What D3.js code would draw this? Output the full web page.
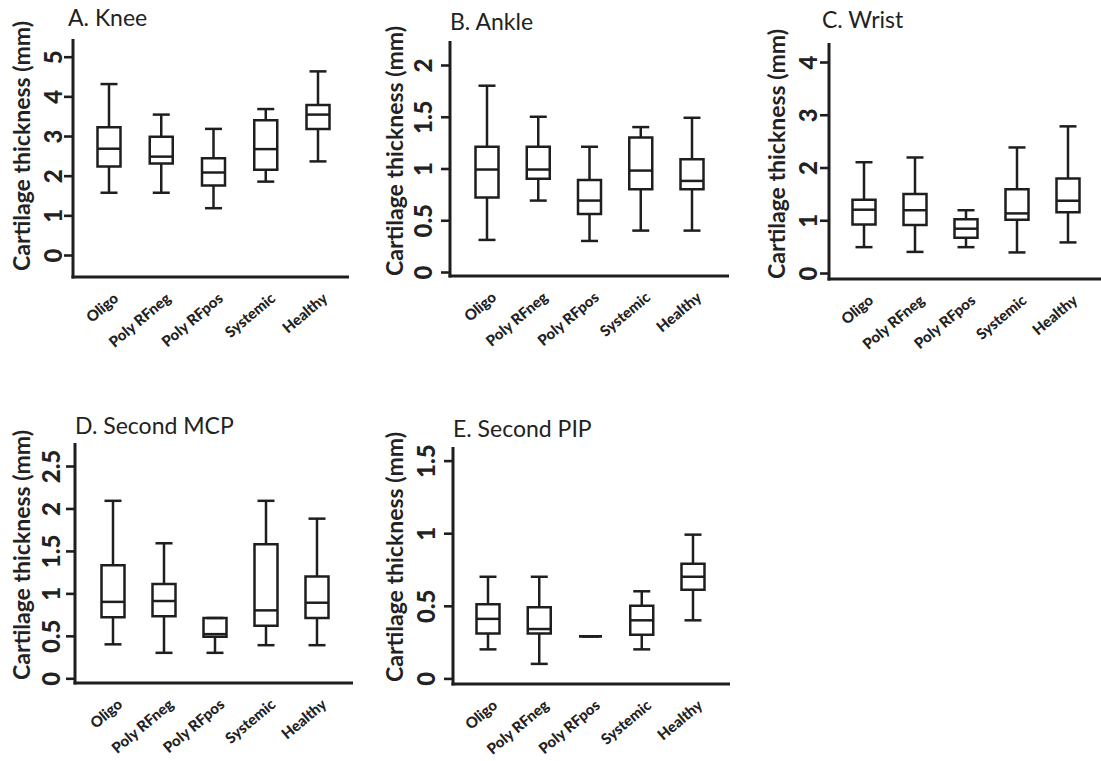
<!DOCTYPE html>
<html>
<head>
<meta charset="utf-8">
<script src="https://cdn.jsdelivr.net/npm/d3@7"></script>
<style>
  body { margin: 0; background: #fff; }
  svg { display: block; }
  .box, .whisker, .cap, .median { fill: none; stroke: #1e1e1e; stroke-width: 2.5; }
  .axis-line { stroke: #1e1e1e; stroke-width: 3; }
  .tick line { stroke: #1e1e1e; stroke-width: 2.6; }
  .panel-title { font-family: Lato, sans-serif; font-size: 23px; fill: #222; }
  .y-title { font-family: Lato, sans-serif; font-weight: bold; font-size: 23px; fill: #222; }
  .tick text { font-family: Lato, sans-serif; font-weight: 900; fill: #222; }
</style>
</head>
<body>
<div id="chart"></div>
<script>
// Groups on the x axis
const categories = ['Oligo', 'Poly RFneg', 'Poly RFpos', 'Systemic', 'Healthy'];

// Box stats per group: [whisker low, Q1, median, Q3, whisker high] (mm)
const kneeStats = [
    [1.57, 2.23, 2.68, 3.22, 4.31],
    [1.57, 2.31, 2.48, 2.98, 3.54],
    [1.18, 1.75, 2.08, 2.44, 3.18],
    [1.85, 2.15, 2.67, 3.40, 3.68],
    [2.36, 3.18, 3.54, 3.78, 4.63]
];
const ankleStats = [
    [0.31, 0.72, 0.99, 1.21, 1.80],
    [0.69, 0.90, 0.99, 1.21, 1.50],
    [0.30, 0.56, 0.69, 0.89, 1.21],
    [0.40, 0.80, 0.98, 1.30, 1.40],
    [0.40, 0.80, 0.88, 1.09, 1.49]
];
const wristStats = [
    [0.49, 0.92, 1.20, 1.39, 2.10],
    [0.40, 0.91, 1.19, 1.50, 2.19],
    [0.49, 0.67, 0.84, 1.02, 1.19],
    [0.39, 1.01, 1.13, 1.59, 2.38],
    [0.58, 1.15, 1.37, 1.79, 2.78]
];
const mcpStats = [
    [0.40, 0.72, 0.90, 1.33, 2.09],
    [0.30, 0.73, 0.91, 1.11, 1.59],
    [0.30, 0.49, 0.52, 0.71, 0.71],
    [0.39, 0.62, 0.80, 1.58, 2.09],
    [0.39, 0.71, 0.89, 1.20, 1.88]
];
const pipStats = [
    [0.20, 0.31, 0.41, 0.51, 0.70],
    [0.10, 0.31, 0.34, 0.49, 0.70],
    [0.29, 0.29, 0.29, 0.29, 0.29],
    [0.20, 0.30, 0.40, 0.50, 0.60],
    [0.40, 0.61, 0.70, 0.79, 0.99]
];

// Tick values for each panel
const kneeTicks = [0, 1, 2, 3, 4, 5];
const ankleTicks = [0, 0.5, 1, 1.5, 2];
const wristTicks = [0, 1, 2, 3, 4];
const mcpTicks = [0, 0.5, 1, 1.5, 2, 2.5];
const pipTicks = [0, 0.5, 1, 1.5];

const yLabel = 'Cartilage thickness (mm)';

// Panel layout (pixel positions only)
const panels = [
    { title: 'A. Knee', stats: kneeStats, ticks: kneeTicks,
      axisX: 73, top: 39, bottom: 277, right: 349, y0: 255, y1: 56.7,
      firstX: 109, lastX: 318, labelOff: 11, titleX: 68, titleY: 26, yTitleX: 22, yTitleY: 146 },
    { title: 'B. Ankle', stats: ankleStats, ticks: ankleTicks,
      axisX: 450, top: 41, bottom: 276, right: 729, y0: 272, y1: 65,
      firstX: 487, lastX: 692, labelOff: 18, titleX: 450, titleY: 30, yTitleX: 395, yTitleY: 151 },
    { title: 'C. Wrist', stats: wristStats, ticks: wristTicks,
      axisX: 829, top: 43, bottom: 279, right: 1101, y0: 273, y1: 62,
      firstX: 864, lastX: 1068, labelOff: 12, titleX: 822, titleY: 28, yTitleX: 777, yTitleY: 154 },
    { title: 'D. Second MCP', stats: mcpStats, ticks: mcpTicks,
      axisX: 75, top: 443, bottom: 683, right: 353, y0: 678.3, y1: 466,
      firstX: 113, lastX: 317, labelOff: 15, titleX: 75, titleY: 434, yTitleX: 22, yTitleY: 555 },
    { title: 'E. Second PIP', stats: pipStats, ticks: pipTicks,
      axisX: 453, top: 447, bottom: 684, right: 730, y0: 678.4, y1: 460.6,
      firstX: 488, lastX: 693, labelOff: 18, titleX: 453, titleY: 437, yTitleX: 395, yTitleY: 557 }
];

const width = 1101;
const height = 761;
const boxWidth = 23;
const capWidth = 17;

const svg = d3.select('#chart')
    .append('svg')
    .attr('width', width)
    .attr('height', height);

panels.forEach(function(p) {
    const g = svg.append('g');

    const y = d3.scaleLinear()
        .domain([0, p.ticks[p.ticks.length - 1]])
        .range([p.y0, p.y1]);

    const x = d3.scalePoint()
        .domain(categories)
        .range([p.firstX, p.lastX]);

    // Title
    g.append('text')
        .attr('class', 'panel-title')
        .attr('x', p.titleX)
        .attr('y', p.titleY)
        .text(p.title);

    // Y axis title
    g.append('text')
        .attr('class', 'y-title')
        .attr('transform', `translate(${p.yTitleX},${p.yTitleY}) rotate(-90)`)
        .attr('text-anchor', 'middle')
        .attr('dy', '0.35em')
        .text(yLabel);

    // Y axis ticks
    const yAxis = g.append('g')
        .attr('transform', `translate(${p.axisX},0)`)
        .call(d3.axisLeft(y)
            .tickValues(p.ticks)
            .tickFormat(d3.format('~g'))
            .tickSize(9));
    yAxis.select('.domain').remove();
    yAxis.selectAll('.tick text')
        .attr('transform', 'rotate(-90)')
        .attr('x', 0)
        .attr('y', -p.labelOff)
        .attr('dy', 0)
        .attr('text-anchor', 'middle')
        .style('font-size', '24px');

    // Axis lines
    g.append('line')
        .attr('class', 'axis-line')
        .attr('x1', p.axisX).attr('x2', p.axisX)
        .attr('y1', p.top).attr('y2', p.bottom + 1.5);
    g.append('line')
        .attr('class', 'axis-line')
        .attr('x1', p.axisX - 1.5).attr('x2', p.right)
        .attr('y1', p.bottom).attr('y2', p.bottom);

    // X axis labels
    const xAxis = g.append('g')
        .attr('transform', `translate(0,${p.bottom})`)
        .call(d3.axisBottom(x).tickSize(0));
    xAxis.select('.domain').remove();
    xAxis.selectAll('.tick text')
        .attr('transform', 'translate(10,23) rotate(-40)')
        .attr('x', 0)
        .attr('y', 0)
        .attr('dy', 0)
        .attr('text-anchor', 'end')
        .style('font-size', '15px');

    // Boxes
    const groups = g.selectAll('.group')
        .data(p.stats.map((s, i) => ({ cat: categories[i], s: s })))
        .enter()
        .append('g')
        .attr('class', 'group');

    groups.append('line')
        .attr('class', 'whisker')
        .attr('x1', d => x(d.cat)).attr('x2', d => x(d.cat))
        .attr('y1', d => y(d.s[0])).attr('y2', d => y(d.s[1]));
    groups.append('line')
        .attr('class', 'whisker')
        .attr('x1', d => x(d.cat)).attr('x2', d => x(d.cat))
        .attr('y1', d => y(d.s[3])).attr('y2', d => y(d.s[4]));
    groups.append('line')
        .attr('class', 'cap')
        .attr('x1', d => x(d.cat) - capWidth / 2).attr('x2', d => x(d.cat) + capWidth / 2)
        .attr('y1', d => y(d.s[0])).attr('y2', d => y(d.s[0]));
    groups.append('line')
        .attr('class', 'cap')
        .attr('x1', d => x(d.cat) - capWidth / 2).attr('x2', d => x(d.cat) + capWidth / 2)
        .attr('y1', d => y(d.s[4])).attr('y2', d => y(d.s[4]));
    groups.append('path')
        .attr('class', 'box')
        .attr('d', d => {
            const x0 = x(d.cat) - boxWidth / 2;
            const x1 = x(d.cat) + boxWidth / 2;
            return `M${x0},${y(d.s[3])}H${x1}V${y(d.s[1])}H${x0}Z`;
        });
    groups.append('line')
        .attr('class', 'median')
        .attr('x1', d => x(d.cat) - boxWidth / 2).attr('x2', d => x(d.cat) + boxWidth / 2)
        .attr('y1', d => y(d.s[2])).attr('y2', d => y(d.s[2]));
});
</script>
</body>
</html>
